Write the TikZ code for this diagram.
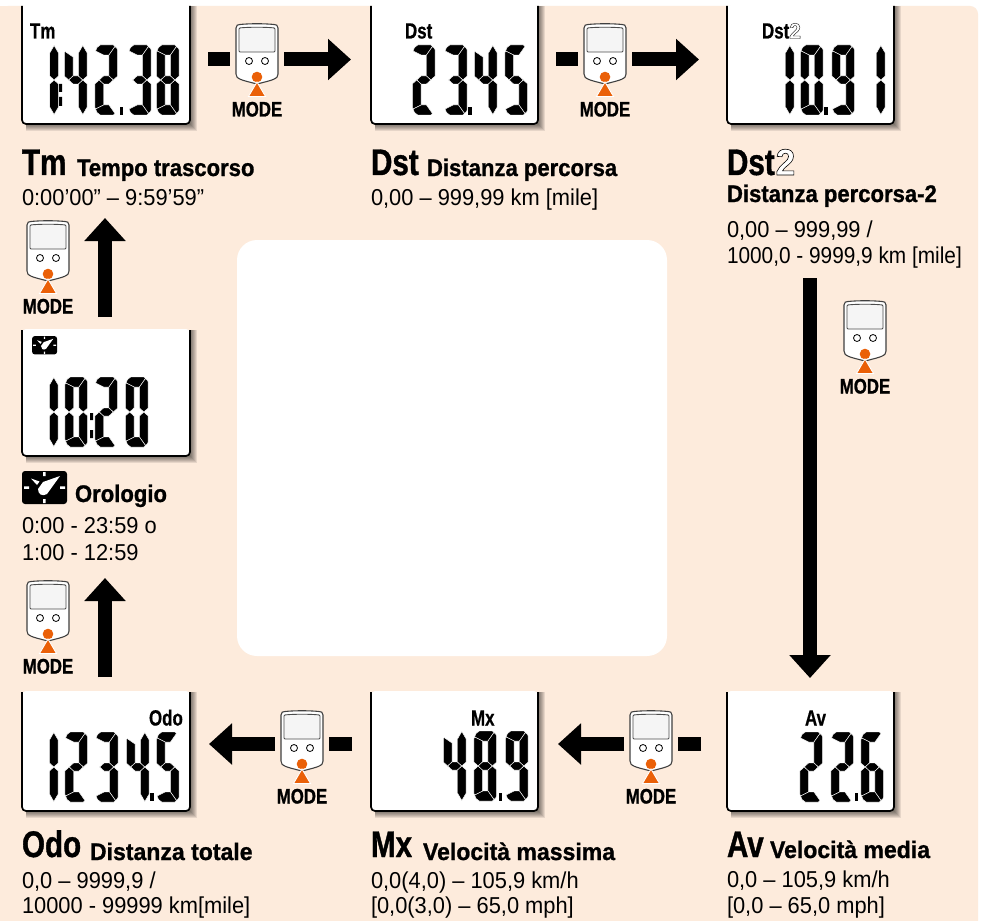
\documentclass[tikz,border=0pt]{standalone}
\usepackage{fontspec}
\usetikzlibrary{arrows.meta}
\setmainfont{Liberation Sans}
\newfontfamily\cbf[FakeStretch=0.8,FakeBold=1]{Liberation Sans}
\newfontfamily\cbs[FakeStretch=0.92,FakeBold=1]{Liberation Sans}
\newfontfamily\cbt[FakeStretch=0.96,FakeBold=1]{Liberation Sans}
\newfontfamily\cbl[FakeStretch=0.77,FakeBold=0.6]{Liberation Sans}
\newfontfamily\cbg[FakeStretch=0.95]{Liberation Sans}
\newfontfamily\cbn[FakeStretch=0.905]{Liberation Sans}
\newfontfamily\cbo[FakeStretch=0.95,FakeBold=1.6]{Liberation Sans}
\definecolor{peach}{HTML}{FDEBDC}
\definecolor{orng}{HTML}{EA6008}
\newcommand\fhd{\cbf\bfseries\fontsize{37}{37}\selectfont}
\newcommand\fsb{\cbs\bfseries\fontsize{24}{24}\selectfont}
\newcommand\fsv{\cbt\bfseries\fontsize{24}{24}\selectfont}
\newcommand\frg{\cbg\fontsize{23}{23}\selectfont}
\newcommand\frn{\cbn\fontsize{23}{23}\selectfont}
\newcommand\fmd{\cbf\bfseries\fontsize{21}{21}\selectfont}
\newcommand\flc{\cbl\bfseries\fontsize{22}{22}\selectfont}
\newcommand\outlinetwo[1]{{\cbo\fontsize{#1}{#1}\selectfont\special{pdf:bc [1 1 1] [0 0 0]}2\special{pdf:ec}}}
\tikzset{
  txt/.style={inner sep=0pt,outer sep=0pt,anchor=base west,text=black},
  seg/.style={fill=black,draw=white,line width=0.45pt},
  flowshaft/.style={line width=14pt,black,-{Triangle[length=23pt,width=40pt]}},
  flowbar/.style={line width=14pt,black},
  pix/.style={x=1pt,y=-1pt}
}
% seven segments, 21 x 70 units
\newcommand\SegA{\filldraw[seg] (0.7,6)--(2,2.5)--(5,0)--(17,0)--(18.5,1.5)--(13,10)--(8,10)--cycle;}
\newcommand\SegB{\filldraw[seg] (21,5)--(20,3)--(18.5,1.5)--(13,10)--(13,31)--(17,35)--(21,31)--cycle;}
\newcommand\SegBp{\filldraw[seg] (21,8)--(17,0.5)--(13,8)--(13,31)--(17,35)--(21,31)--cycle;}
\newcommand\SegC{\filldraw[seg] (21,39)--(17,35)--(13,39)--(13,60)--(18.5,68.5)--(20,67)--(21,65)--cycle;}
\newcommand\SegCp{\filldraw[seg] (21,39)--(17,35)--(13,39)--(13,62)--(17,69.5)--(21,62)--cycle;}
\newcommand\SegD{\filldraw[seg] (0.7,64)--(2,67.5)--(5,70)--(17,70)--(18.5,68.5)--(13,60)--(8,60)--cycle;}
\newcommand\SegE{\filldraw[seg] (0,39)--(4,35)--(8,39)--(8,60)--(0.7,64)--(0,62)--cycle;}
\newcommand\SegF{\filldraw[seg] (0,8)--(0.7,6)--(8,10)--(8,31)--(4,35)--(0,31)--cycle;}
\newcommand\SegFp{\filldraw[seg] (0,6)--(8,12)--(8,31)--(4,35)--(0,31)--cycle;}
\newcommand\SegG{\filldraw[seg] (4,35)--(8,31)--(13,31)--(17,35)--(13,39)--(8,39)--cycle;}
\expandafter\newcommand\csname Dig0\endcsname{\SegA\SegB\SegC\SegD\SegE\SegF}
\expandafter\newcommand\csname Dig1\endcsname{\SegBp\SegCp}
\expandafter\newcommand\csname Dig2\endcsname{\SegA\SegB\SegG\SegE\SegD}
\expandafter\newcommand\csname Dig3\endcsname{\SegA\SegB\SegG\SegC\SegD}
\expandafter\newcommand\csname Dig4\endcsname{\SegFp\SegG\SegBp\SegCp}
\expandafter\newcommand\csname Dig5\endcsname{\SegA\SegF\SegG\SegC\SegD}
\expandafter\newcommand\csname Dig6\endcsname{\SegA\SegF\SegG\SegE\SegC\SegD}
\expandafter\newcommand\csname Dig8\endcsname{\SegA\SegB\SegC\SegD\SegE\SegF\SegG}
\expandafter\newcommand\csname Dig9\endcsname{\SegA\SegB\SegC\SegD\SegF\SegG}
% \dd{left}{top}{digit}
\newcommand\dd[3]{\begin{scope}[shift={(#1-0.7,#2)},xscale=1.09]\csname Dig#3\endcsname\end{scope}}
\newcommand\dotp[2]{\fill[black] (#1,#2-8) rectangle (#1+3.5,#2);}
% LCD box: name,x1,x2,top,bottom
\newcommand\lcdbox[5]{%
  \foreach \i in {7,6,5,4,3,2,1}{\fill[black,opacity=0.09] (#2+4,#4) -- (#3+\i,#4) -- (#3+\i,#5+\i) -- (#2+4,#5+\i) -- cycle;}
  \fill[white,rounded corners=4pt] (#2,#4-1) -- (#2,#5) -- (#3,#5) -- (#3,#4-1) -- cycle;
  \draw[black,line width=1.7pt,rounded corners=4pt] (#2,#4) -- (#2,#5) -- (#3,#5) -- (#3,#4);
  \coordinate (#1) at (#2,#4);
}
% device: center x, top y, name
\newcommand\device[3]{%
 \begin{scope}[shift={(#1,#2)}]
  \draw[fill=white,draw=black!75,line width=1.1pt] (-21,4) .. controls (-21,1) and (-19,0.5) .. (-17,0.5) .. controls (-8,-0.5) and (8,-0.5) .. (17,0.5) .. controls (19,0.5) and (21,1) .. (21,4) -- (21,50) .. controls (21,55) and (16,56) .. (0,60) .. controls (-16,56) and (-21,55) .. (-21,50) -- cycle;
  \draw[fill=white!96!black,draw=black!70,line width=0.9pt,rounded corners=1pt] (-18,4) .. controls (-8,3) and (8,3) .. (18,4) -- (18,28) -- (-18,28) -- cycle;
  \draw[fill=white,draw=black,line width=0.8pt] (-8,37) circle (3.5);
  \draw[fill=white,draw=black,line width=0.8pt] (8,37) circle (3.5);
  \fill[orng] (0,53) circle (5.3);
  \draw[fill=orng,draw=white,line width=0.9pt] (0,58) -- (8.5,72.5) -- (-8.5,72.5) -- cycle;
  \node[txt,anchor=base] (#3) at (0,92.5) {\fmd MODE};
 \end{scope}}
% clock icon: x,y,scale
\newcommand\clockicon[3]{%
 \begin{scope}[shift={(#1,#2)},scale=#3]
  \fill[black,rounded corners=3pt] (0,0) rectangle (45,33);
  \fill[white] (21,1) rectangle (23.5,5) (21,28) rectangle (23.5,32) (2,15.3) rectangle (7,17.8) (38,15.3) rectangle (43,17.8);
  \fill[white] (38,5) -- (21,11) -- (16,18) .. controls (16,23) and (20,26) .. (25,23) -- cycle;
  \fill[white] (9,7.5) -- (17.5,10.5) -- (15,14) -- cycle;
 \end{scope}}
\begin{document}
\begin{tikzpicture}[pix]
\useasboundingbox (0,0) rectangle (984,920);
\fill[white] (0,0) rectangle (984,920);
\fill[peach,rounded corners=8pt] (0,930) -- (0,6) -- (978,6) -- (978,930) -- cycle;
\fill[peach] (0,6) rectangle (20,20);
\fill[white,rounded corners=20pt] (237,240) rectangle (667,656);

% LCD boxes
\lcdbox{lcdTm}{22}{190}{6}{124}
\lcdbox{lcdDst}{371}{538}{6}{124}
\lcdbox{lcdDstb}{727}{894}{6}{124}
\lcdbox{lcdClk}{22}{190}{330}{456}
\lcdbox{lcdOdo}{22}{190}{692}{811}
\lcdbox{lcdMx}{371}{538}{692}{811}
\lcdbox{lcdAv}{727}{894}{692}{811}

% Tm digits
\dd{36.3}{45}{1}\fill[black] (59,84) rectangle (62,92) (59,97) rectangle (62,106);
\dd{65}{45}{4}\dd{95.5}{45}{2}\dotp{119.5}{115}\dd{129}{45}{3}\dd{157}{45}{8}
% Dst digits
\dd{413}{45}{2}\dd{445}{45}{3}\dotp{468.3}{115}\dd{475}{45}{4}\dd{505.5}{45}{5}
% Dst2 digits
\dd{772}{45}{1}\dd{801}{45}{0}\dotp{824}{115}\dd{832.5}{45}{9}\dd{863}{45}{1}
% clock digits
\dd{36}{377}{1}\dd{65.5}{377}{0}\fill[black] (90,413) rectangle (93,420) (90,430) rectangle (93,438);
\dd{95.5}{377}{2}\dd{126}{377}{0}
% Odo digits
\dd{36}{732}{1}\dd{65.5}{732}{2}\dd{96}{732}{3}\dd{127}{732}{4}\dotp{150}{801}\dd{157}{732}{5}
% Mx digits
\dd{444}{731}{4}\dd{474.5}{731}{8}\dotp{498.5}{801}\dd{506}{731}{9}
% Av digits
\dd{800.5}{732}{2}\dd{831.5}{732}{2}\dotp{854.5}{801}\dd{861.5}{732}{6}

% LCD labels
\node[txt] (lblTm) at (30,38.5) {\flc Tm};
\node[txt] (lblDst) at (405,38.5) {\flc Dst};
\node[txt] (lblDstb) at (762,38.5) {\flc Dst\outlinetwo{22}};
\clockicon{32}{336}{0.56}
\node[txt] (lblOdo) at (149,725.5) {\flc Odo};
\node[txt] (lblMx) at (471,725.5) {\flc Mx};
\node[txt] (lblAv) at (805,725.5) {\flc Av};

% devices
\device{257}{24}{m1}
\device{605}{24}{m2}
\device{865}{301}{m3}
\device{651}{711}{m4}
\device{302}{711}{m5}
\device{48}{581}{m6}
\device{48}{221}{m7}

% flow arrows
\coordinate (a1s) at (208,59.5);\coordinate (a1e) at (230,59.5);\coordinate (a1f) at (284,59.5);\coordinate (a1t) at (351,59.5);
\draw[flowbar] (a1s) -- (a1e);\draw[flowshaft] (a1f) -- (a1t);
\coordinate (a2s) at (556,59.5);\coordinate (a2e) at (578,59.5);\coordinate (a2f) at (632,59.5);\coordinate (a2t) at (699,59.5);
\draw[flowbar] (a2s) -- (a2e);\draw[flowshaft] (a2f) -- (a2t);
\coordinate (a3f) at (810,278);\coordinate (a3t) at (810,678);
\draw[flowshaft] (a3f) -- (a3t);
\coordinate (a4s) at (701,744);\coordinate (a4e) at (678,744);\coordinate (a4f) at (624,744);\coordinate (a4t) at (558,744);
\draw[flowbar] (a4s) -- (a4e);\draw[flowshaft] (a4f) -- (a4t);
\coordinate (a5s) at (352,744);\coordinate (a5e) at (329,744);\coordinate (a5f) at (275,744);\coordinate (a5t) at (209,744);
\draw[flowbar] (a5s) -- (a5e);\draw[flowshaft] (a5f) -- (a5t);
\coordinate (a6f) at (105,677);\coordinate (a6t) at (105,578);
\draw[flowshaft] (a6f) -- (a6t);
\coordinate (a7f) at (105,317);\coordinate (a7t) at (105,218);
\draw[flowshaft] (a7f) -- (a7t);

% Tm
\node[txt] (hTm) at (22,175) {\fhd Tm};
\node[txt] (sTm) at (77,176) {\fsb Tempo trascorso};
\node[txt] (rTm) at (22,205) {\frg 0:00’00” – 9:59’59”};
% Dst
\node[txt] (hDst) at (371,175) {\fhd Dst};
\node[txt] (sDst) at (427,176) {\fsb Distanza percorsa};
\node[txt] (rDst) at (371,205) {\frg 0,00 – 999,99 km [mile]};
% Dst2
\node[txt] (hDstb) at (727,175) {\fhd Dst\kern1pt\outlinetwo{37}};
\node[txt] (sDstb) at (727,202) {\fsb Distanza percorsa-2};
\node[txt] (rDstb) at (727,237) {\frg 0,00 – 999,99 /};
\node[txt] (rDstc) at (727,263) {\frn 1000,0 - 9999,9 km [mile]};
% clock
\clockicon{22}{471}{1}
\node[txt] (sClk) at (75,502) {\fsb Orologio};
\node[txt] (rClk) at (22,533) {\frg 0:00 - 23:59 o};
\node[txt] (rClb) at (22,560) {\frg 1:00 - 12:59};
% Odo
\node[txt] (hOdo) at (22,857) {\fhd Odo};
\node[txt] (sOdo) at (90,860) {\fsv Distanza totale};
\node[txt] (rOdo) at (22,888) {\frg 0,0 – 9999,9 /};
\node[txt] (rOdb) at (22,913) {\frg 10000 - 99999 km[mile]};
% Mx
\node[txt] (hMx) at (371,857) {\fhd Mx};
\node[txt] (sMx) at (423,860) {\fsv Velocità massima};
\node[txt] (rMx) at (371,888) {\frg 0,0(4,0) – 105,9 km/h};
\node[txt] (rMb) at (371,913) {\frg [0,0(3,0) – 65,0 mph]};
% Av
\node[txt] (hAv) at (727,857) {\fhd Av};
\node[txt] (sAv) at (770,858) {\fsv Velocità media};
\node[txt] (rAv) at (727,887) {\frg 0,0 – 105,9 km/h};
\node[txt] (rAb) at (727,913) {\frg [0,0 – 65,0 mph]};
\end{tikzpicture}
\end{document}
